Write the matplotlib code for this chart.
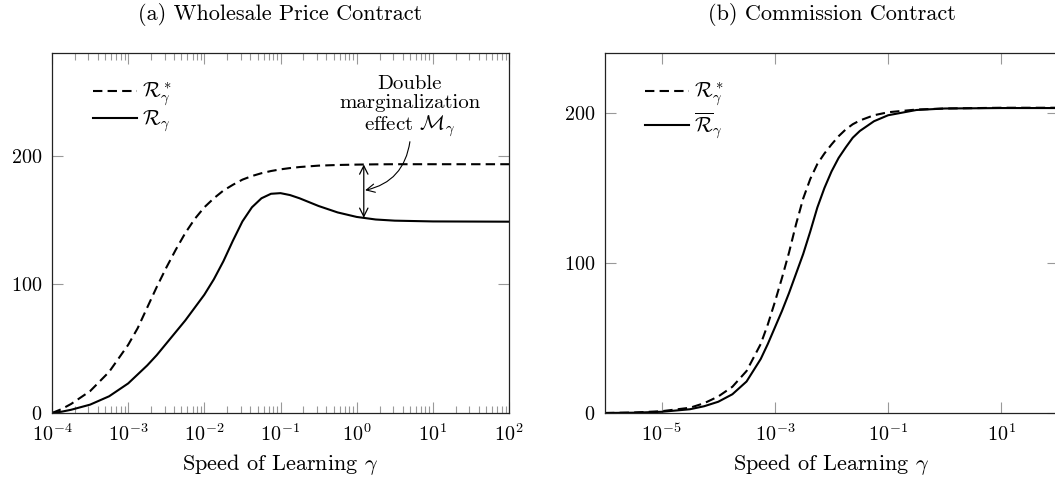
import numpy as np
import matplotlib.pyplot as plt
from matplotlib.ticker import LogLocator, NullFormatter, NullLocator

plt.rcParams['font.family'] = 'cmr10'
plt.rcParams['mathtext.fontset'] = 'cm'
plt.rcParams['axes.formatter.use_mathtext'] = True
plt.rcParams['font.size'] = 15

# (a) wholesale price contract (log10 gamma)
log_gamma_a = [-4.0, -3.875, -3.75, -3.5, -3.25, -3.0, -2.875, -2.75, -2.625, -2.5,
               -2.375, -2.25, -2.125, -2.0, -1.875, -1.75, -1.625, -1.5, -1.375, -1.25,
               -1.125, -1.0, -0.875, -0.75, -0.5, -0.25, 0.0, 0.25, 0.5, 1.0, 2.0]
r_star_a = [0.0, 3, 7, 17, 32, 53, 66, 82, 98, 113,
            127, 140, 151, 160, 167, 173, 177.5, 181.5, 184.3, 186.5,
            188.2, 189.5, 190.5, 191.3, 192.4, 192.9, 193.2, 193.4, 193.5, 193.5, 193.5]
r_a = [0.0, 1.0, 2.5, 6.5, 13, 23, 30, 37, 45, 54,
       63, 72, 82, 92, 104, 118, 134, 149, 160, 167,
       170.5, 171, 169.5, 167, 161, 156, 152.5, 150.5, 149.6, 149, 148.8]
ticks_a = [1e-4, 1e-3, 1e-2, 1e-1, 1e0, 1e1, 1e2]

# (b) commission contract
log_gamma_b = [-6.0, -5.5, -5.0, -4.5, -4.25, -4.0, -3.75, -3.5, -3.25, -3.125,
               -3.0, -2.875, -2.75, -2.625, -2.5, -2.375, -2.25, -2.125, -2.0, -1.875,
               -1.75, -1.625, -1.5, -1.25, -1.0, -0.5, 0.0, 1.0, 2.0]
r_star_b = [0.0, 0.3, 1.2, 3.5, 6.5, 11, 17.5, 28, 46, 59,
            74, 90, 107, 126, 143, 156, 166, 173, 179, 184.5,
            189, 192.5, 195, 198.5, 200.5, 202.3, 203, 203.5, 203.5]
r_bar_b = [0.0, 0.2, 0.8, 2.5, 4.5, 7.5, 12.5, 21, 36, 46,
           57, 68, 80, 93, 106, 121, 137, 150, 161, 170,
           177, 183.5, 188, 194.5, 198.5, 202, 203, 203.3, 203.3]
ticks_b = [1e-5, 1e-3, 1e-1, 1e1]

W, H = 1055, 483
fig = plt.figure(figsize=(W / 100, H / 100), dpi=100)

def px(l, t, r, b):
    return [l / W, 1 - b / H, (r - l) / W, (b - t) / H]

ax1 = fig.add_axes(px(52, 53, 509, 413))
ax2 = fig.add_axes(px(605, 53, 1058, 413))

dash = (0, (4.5, 2.5))
tick_col = '#999999'

for ax in (ax1, ax2):
    ax.set_xscale('log')
    ax.tick_params(which='both', direction='in', top=True, right=True, color=tick_col,
                   labelsize=14.5)
    ax.tick_params(which='major', length=8, width=0.8)
    ax.tick_params(axis='x', which='major', pad=7.5)
    ax.tick_params(axis='y', which='major', pad=7)
    ax.tick_params(which='minor', length=5, width=0.8)
    for s in ax.spines.values():
        s.set_linewidth(0.9)
        s.set_color('#222222')
    ax.set_xlabel(r'Speed of Learning $\gamma$', fontsize=16, labelpad=5)
    ax.set_yticks([0, 100, 200])

g_a = 10.0 ** np.array(log_gamma_a)
ax1.plot(g_a, r_star_a, color='black', lw=1.5, ls=dash, label=r'$\mathcal{R}^*_\gamma$')
ax1.plot(g_a, r_a, color='black', lw=1.5, label=r'$\mathcal{R}_\gamma$')
ax1.set_xlim(1e-4, 1e2)
ax1.set_ylim(0, 280)
ax1.set_xticks(ticks_a)
ax1.xaxis.set_minor_locator(LogLocator(base=10, subs=np.arange(2, 10), numticks=20))
ax1.xaxis.set_minor_formatter(NullFormatter())
ax1.legend(loc='upper left', frameon=False, handlelength=2.1, handletextpad=0.25,
           borderaxespad=0.0, bbox_to_anchor=(0.072, 0.945), labelspacing=0.0)

# double marginalization annotation
xm = 1.24
ax1.annotate('', xy=(xm, 193.3), xytext=(xm, 151.8),
             arrowprops=dict(arrowstyle='<->', color='black', lw=0.9,
                             shrinkA=0, shrinkB=0))
ax1.text(5.0, 213, 'Double\nmarginalization\neffect $\\mathcal{M}_\\gamma$',
         ha='center', va='bottom', linespacing=1.1)
ax1.annotate('', xy=(xm, 173), xytext=(5.0, 211),
             arrowprops=dict(arrowstyle='->', color='black', lw=0.8,
                             shrinkA=0, shrinkB=1,
                             connectionstyle='arc3,rad=-0.35'))

g_b = 10.0 ** np.array(log_gamma_b)
ax2.plot(g_b, r_star_b, color='black', lw=1.5, ls=dash, label=r'$\mathcal{R}^*_\gamma$')
ax2.plot(g_b, r_bar_b, color='black', lw=1.5, label=r'$\overline{\mathcal{R}}_\gamma$')
ax2.set_xlim(1e-6, 1e2)
ax2.set_ylim(0, 240)
ax2.set_xticks(ticks_b)
ax2.xaxis.set_minor_locator(NullLocator())
ax2.legend(loc='upper left', frameon=False, handlelength=2.1, handletextpad=0.25,
           borderaxespad=0.0, bbox_to_anchor=(0.071, 0.945), labelspacing=0.1)

fig.text(280 / W, 1 - 15 / H, '(a) Wholesale Price Contract', fontsize=16,
         ha='center', va='center')
fig.text(832 / W, 1 - 15 / H, '(b) Commission Contract', fontsize=16,
         ha='center', va='center')

fig.savefig('out.png', dpi=100)
